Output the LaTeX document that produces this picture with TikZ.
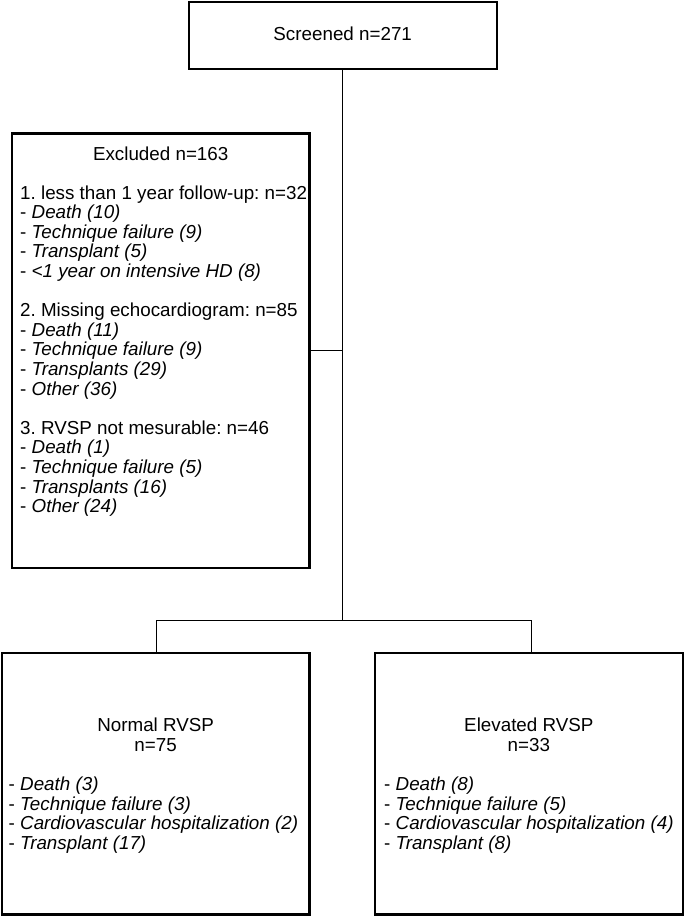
\documentclass[tikz,border=0pt]{standalone}
\usepackage{fontspec}
\setmainfont{Liberation Sans}
\frenchspacing
\newcommand\txtblock[2][\raggedright]{\parbox[t]{330pt}{#1#2}}
\newcommand\itm[1]{- \textit{#1}}
\tikzset{
  box/.style={draw, line width=2.4pt, inner sep=0pt, rectangle},
  conn/.style={line width=1.3pt},
  txt/.style={inner sep=0pt, font=\fontsize{18.8}{19.6}\selectfont},
}
\begin{document}
\begin{tikzpicture}[x=1pt, y=-1pt]
\useasboundingbox (0,0) rectangle (685,916);
% boxes
\node[box, minimum width=308pt, minimum height=67pt] (top) at (342.7,35.5) {};
\node[box, minimum width=297.3pt, minimum height=434.4pt] (excl) at (160.65,350.5) {};
\node[box, minimum width=307.3pt, minimum height=261.4pt] (nl) at (155.65,783.6) {};
\node[box, minimum width=307.7pt, minimum height=261.4pt] (nr) at (528.85,783.6) {};
% texts
\node[txt, anchor=base] (toptxt) at (342.7,40.7) {Screened n=271};
\node[txt, anchor=base] (excltitle) at (160.7,160) {Excluded n=163};
\node[txt, anchor=base west] (exclbody) at (20,199) {\txtblock{%
1. less than 1 year follow-up: n=32\\
\itm{Death (10)}\\
\itm{Technique failure (9)}\\
\itm{Transplant (5)}\\
\itm{<1 year on intensive HD (8)}\\[19.6pt]
2. Missing echocardiogram: n=85\\
\itm{Death (11)}\\
\itm{Technique failure (9)}\\
\itm{Transplants (29)}\\
\itm{Other (36)}\\[19.6pt]
3. RVSP not mesurable: n=46\\
\itm{Death (1)}\\
\itm{Technique failure (5)}\\
\itm{Transplants (16)}\\
\itm{Other (24)}}};
\node[txt, anchor=base] (nltitle) at (155.65,731.7) {\txtblock[\centering]{Normal RVSP\\ n=75}};
\node[txt, anchor=base west] (nlbody) at (8.5,790.5) {\txtblock{%
\itm{Death (3)}\\
\itm{Technique failure (3)}\\
\itm{Cardiovascular hospitalization (2)}\\
\itm{Transplant (17)}}};
\node[txt, anchor=base] (nrtitle) at (528.85,731.7) {\txtblock[\centering]{Elevated RVSP\\ n=33}};
\node[txt, anchor=base west] (nrbody) at (384,790.5) {\txtblock{%
\itm{Death (8)}\\
\itm{Technique failure (5)}\\
\itm{Cardiovascular hospitalization (4)}\\
\itm{Transplant (8)}}};
% connectors
\coordinate (split) at (342.7,620.7);
\coordinate (dl) at ([xshift=1pt]nl.north);
\coordinate (dr) at ([xshift=2.7pt]nr.north);
\draw[conn] (top.south) -- (split);
\draw[conn] (excl.east) -- (excl.east -| top.south);
\draw[conn] (dl) |- (split) -| (dr);
\end{tikzpicture}
\end{document}
